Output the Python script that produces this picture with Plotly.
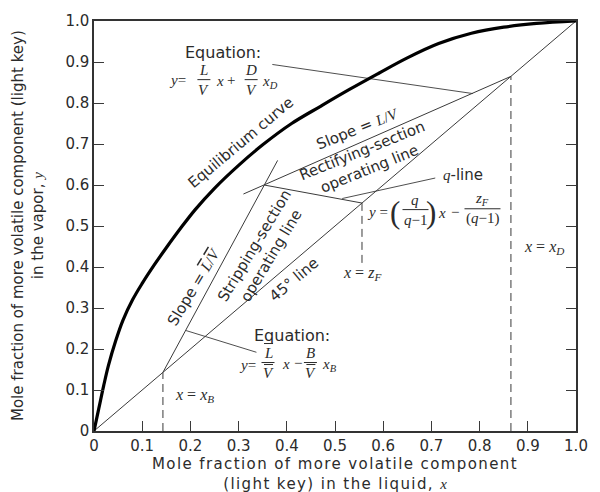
import plotly.graph_objects as go

# Vapour-liquid equilibrium curve for the light key
eq_x = [0.0, 0.01, 0.02, 0.03, 0.045, 0.06, 0.08, 0.10, 0.125, 0.15, 0.18, 0.21, 0.25,
        0.30, 0.35, 0.41, 0.47, 0.53, 0.59, 0.65, 0.715, 0.783, 0.85, 0.918, 1.0]
eq_y = [0.0, 0.055, 0.110, 0.160, 0.220, 0.270, 0.320, 0.360, 0.405, 0.447, 0.495, 0.540, 0.592,
        0.648, 0.698, 0.750, 0.792, 0.833, 0.872, 0.910, 0.945, 0.970, 0.985, 0.994, 1.0]

# Key compositions: bottoms, feed, distillate
x_B = 0.143
z_F = 0.556
x_D = 0.865

# Intersection of the two operating lines (on the q-line)
x_int, y_int = 0.353, 0.600

# 45-degree line, operating lines and q-line
diag_x = [0.0, 1.0]
diag_y = [0.0, 1.0]
strip_x = [x_B, 0.381]
strip_y = [x_B, 0.660]
rect_x = [0.310, x_D]
rect_y = [0.578, x_D]
qline_x = [x_int, z_F]
qline_y = [y_int, z_F]

# Vertical construction lines
xB_drop_y = [0.0, x_B]
zF_drop_y = [0.41, z_F]
xD_drop_y = [0.0, x_D]

# Leader lines from the equations / labels to their lines
rect_lead_x, rect_lead_y = [0.370, 0.786], [0.894, 0.823]
strip_lead_x, strip_lead_y = [0.191, 0.337], [0.245, 0.192]
q_lead_x, q_lead_y = [0.515, 0.708], [0.567, 0.617]

tick_vals = [0, 0.1, 0.2, 0.3, 0.4, 0.5, 0.6, 0.7, 0.8, 0.9, 1.0]
tick_text = ["0", "0.1", "0.2", "0.3", "0.4", "0.5", "0.6", "0.7", "0.8", "0.9", "1.0"]

INK = "#2b2b2b"
LINE = "#3a3a3a"
SANS = "DejaVu Sans, Verdana, sans-serif"
SERIF = "Liberation Serif, Times New Roman, serif"
MATH = 15

fig = go.Figure()


def line(xs, ys, width=1.0, color=LINE, dash=None):
    fig.add_trace(go.Scatter(x=xs, y=ys, mode="lines", hoverinfo="skip",
                             line=dict(color=color, width=width, dash=dash)))


line(diag_x, diag_y)
line(strip_x, strip_y)
line(rect_x, rect_y)
line(qline_x, qline_y)
line([x_B, x_B], xB_drop_y, dash="8px,5px")
line([z_F, z_F], zF_drop_y, dash="8px,5px")
line([x_D, x_D], xD_drop_y, dash="8px,5px")
line(rect_lead_x, rect_lead_y, width=0.9)
line(strip_lead_x, strip_lead_y, width=0.9)
line(q_lead_x, q_lead_y, width=0.9)
fig.add_trace(go.Scatter(x=eq_x, y=eq_y, mode="lines", hoverinfo="skip",
                         line=dict(color="black", width=3.2, shape="spline", smoothing=1.0)))


def text(x, y, s, size=15, angle=0, family=SANS, **kw):
    fig.add_annotation(x=x, y=y, xref="x", yref="y", text=s, showarrow=False,
                       textangle=angle, font=dict(family=family, size=size, color=INK), **kw)


def bar(x, y, dx0, dx1, dy):
    fig.add_shape(type="line", xref="x", yref="y", xsizemode="pixel", ysizemode="pixel",
                  xanchor=x, yanchor=y, x0=dx0, x1=dx1, y0=dy, y1=dy,
                  line=dict(color=INK, width=1))


def frac(x, y, num, den, width=13, overbars=()):
    text(x, y, num, size=MATH, family=SERIF, yshift=10)
    text(x, y, den, size=MATH, family=SERIF, yshift=-10)
    bar(x, y, -width / 2, width / 2, 0)
    for dy in overbars:
        bar(x, y, -4, 5, dy)


def serif(s):
    return "<span style='font-family:Liberation Serif'>" + s + "</span>"


def wide(s):
    return "<span style='letter-spacing:1.4px'>" + s + "</span>"


# Rectifying-section equation
text(0.268, 0.922, "Equation:", size=16)
text(0.174, 0.855, "<i>y</i>=", size=MATH, family=SERIF)
frac(0.228, 0.857, "<i>L</i>", "<i>V</i>")
text(0.261, 0.853, "<i>x</i>", size=MATH, family=SERIF)
text(0.285, 0.855, "+", size=MATH, family=SERIF)
frac(0.326, 0.857, "<i>D</i>", "<i>V</i>")
text(0.365, 0.851, "<i>x<sub>D</sub></i>", size=MATH, family=SERIF)

# Stripping-section equation
text(0.410, 0.232, "Equation:", size=16)
text(0.318, 0.162, "<i>y</i>=", size=MATH, family=SERIF)
frac(0.361, 0.167, "<i>L</i>", "<i>V</i>", overbars=(19, -2))
text(0.398, 0.163, "<i>x</i>", size=MATH, family=SERIF)
text(0.423, 0.165, "\u2212", size=MATH, family=SERIF)
frac(0.449, 0.167, "<i>B</i>", "<i>V</i>", overbars=(-2,))
text(0.489, 0.161, "<i>x<sub>B</sub></i>", size=MATH, family=SERIF)

# q-line equation
text(0.589, 0.535, "<i>y</i> =", size=MATH, family=SERIF)
text(0.624, 0.533, "(", size=31, family=SERIF)
frac(0.667, 0.540, "<i>q</i>", "<i>q</i>\u22121", width=26)
text(0.699, 0.533, ")", size=31, family=SERIF)
text(0.723, 0.532, "<i>x</i>", size=MATH, family=SERIF)
text(0.749, 0.535, "\u2212", size=MATH, family=SERIF)
frac(0.806, 0.542, "<i>z<sub>F</sub></i>", "(<i>q</i>\u22121)", width=36)

# Line labels
text(0.306, 0.704, "Equilibrium curve", size=15, angle=-40)
text(0.546, 0.737, "Slope = " + serif("<i>L</i>/<i>V</i>"), size=15, angle=-22)
text(0.564, 0.661, "Rectifying-section<br>operating line", size=15, angle=-22)
text(0.766, 0.624, serif("<i>q</i>") + "-line", size=15)
text(0.350, 0.440, "Stripping-section<br>operating line", size=15, angle=-59)
text(0.207, 0.352,
     "Slope = " + serif("<i><span style='text-decoration:overline'>L</span></i>/"
                        "<i><span style='text-decoration:overline'>V</span></i>"),
     size=15, angle=-59)
text(0.414, 0.368, "45\u00b0 line", size=15, angle=-40)
text(0.556, 0.385, "<i>x</i> = <i>z<sub>F</sub></i>", size=16, family=SERIF)
text(0.934, 0.448, "<i>x</i> = <i>x<sub>D</sub></i>", size=16, family=SERIF)
text(0.209, 0.087, "<i>x</i> = <i>x<sub>B</sub></i>", size=16, family=SERIF)

# Axis titles
fig.add_annotation(x=0.5, y=0, xref="paper", yref="paper", yanchor="top", yshift=-22,
                   showarrow=False, font=dict(family=SANS, size=15, color=INK),
                   text=wide("Mole fraction of more volatile component") + "<br>"
                        + wide("(light key) in the liquid, ") + serif("<i>x</i>"))
fig.add_annotation(x=0, y=0.5, xref="paper", yref="paper", xanchor="center", xshift=-66,
                   showarrow=False, textangle=-90, font=dict(family=SANS, size=15, color=INK),
                   text="Mole fraction of more volatile component (light key)<br>"
                        "in the vapor, " + serif("<i>y</i>"))

axis_common = dict(range=[0, 1], tickvals=tick_vals, ticktext=tick_text, ticks="inside",
                   ticklen=10, tickwidth=1.2, tickcolor=LINE, showgrid=False, zeroline=False,
                   showline=True, linecolor="#333333", linewidth=1.5,
                   tickfont=dict(family=SANS, size=15, color=INK), fixedrange=True)

fig.update_layout(
    width=600, height=492,
    margin=dict(l=94, r=13, t=18, b=61),
    paper_bgcolor="white", plot_bgcolor="white",
    showlegend=False,
    xaxis=dict(mirror=True, **axis_common),
    yaxis=dict(mirror="ticks", **axis_common),
)

fig.write_html("out.html")
